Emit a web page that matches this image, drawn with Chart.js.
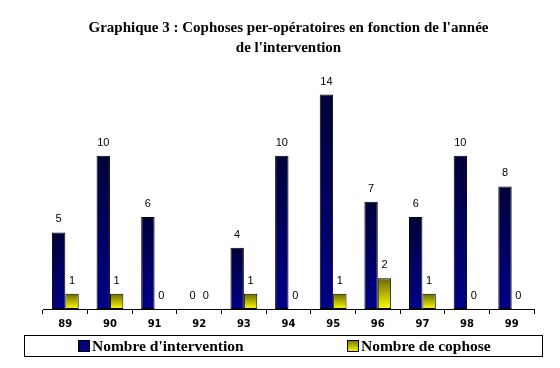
<!DOCTYPE html>
<html>
<head>
<meta charset="utf-8">
<script src="https://cdn.jsdelivr.net/npm/chart.js@4"></script>
<style>
  html, body { margin: 0; padding: 0; background: #fff; }
  #wrap { width: 560px; height: 368px; }
</style>
</head>
<body>
<div id="wrap"><canvas id="cophoseChart" width="560" height="368"></canvas></div>
<script>
const annees = ["89", "90", "91", "92", "93", "94", "95", "96", "97", "98", "99"];
const interventions = [5, 10, 6, 0, 4, 10, 14, 7, 6, 10, 8];
const cophoses = [1, 1, 0, 0, 1, 0, 1, 2, 1, 0, 0];
const titre = ["Graphique 3 : Cophoses per-opératoires en fonction de l'année", "de l'intervention"];
const legendes = ["Nombre d'intervention", "Nombre de cophose"];

const serif = "'Liberation Serif', 'Times New Roman', serif";

// gradient from the top of each bar down to the baseline
function barGradient(top, bottom) {
  return (c) => {
    const chart = c.chart;
    const y = chart.scales.y;
    if (!y || c.type !== "data" || !chart.chartArea) return bottom;
    const y0 = y.getPixelForValue(0);
    const y1 = y.getPixelForValue(c.raw);
    if (y0 - y1 < 1) return bottom;
    const g = chart.ctx.createLinearGradient(0, y1, 0, y0);
    g.addColorStop(0, top);
    g.addColorStop(1, bottom);
    return g;
  };
}

const valeurs = {
  id: "valeurs",
  afterDatasetsDraw(chart) {
    const ctx = chart.ctx;
    ctx.save();
    ctx.font = "11px 'Liberation Sans', Arial, sans-serif";
    ctx.fillStyle = "#000";
    ctx.textAlign = "center";
    ctx.textBaseline = "middle";
    chart.data.datasets.forEach((ds, i) => {
      chart.getDatasetMeta(i).data.forEach((bar, j) => {
        ctx.fillText(String(ds.data[j]), bar.x, bar.y - 13);
      });
    });
    ctx.restore();
  }
};

const legende = {
  id: "legende",
  afterDraw(chart) {
    const ctx = chart.ctx;
    const top = chart.height - 33;
    ctx.save();
    ctx.strokeStyle = "#000";
    ctx.lineWidth = 1;
    ctx.strokeRect(24.5, top + 0.5, 518, 21);
    ctx.font = "bold 15.5px " + serif;
    ctx.textBaseline = "middle";
    ctx.fillStyle = "#000";
    const xs = [78, 347];
    const fills = ["#000080", null];
    xs.forEach((x, i) => {
      const sy = top + 5;
      if (fills[i]) {
        ctx.fillStyle = fills[i];
      } else {
        const g = ctx.createLinearGradient(0, sy, 0, sy + 12);
        g.addColorStop(0, "#707000");
        g.addColorStop(1, "#ffff00");
        ctx.fillStyle = g;
      }
      ctx.fillRect(x, sy, 12, 12);
      ctx.strokeRect(x + 0.5, sy + 0.5, 11, 11);
      ctx.fillStyle = "#000";
      ctx.fillText(legendes[i], x + 14, top + 11.5);
    });
    ctx.restore();
  }
};

new Chart(document.getElementById("cophoseChart"), {
  type: "bar",
  data: {
    labels: annees,
    datasets: [{
      label: legendes[0],
      data: interventions,
      backgroundColor: barGradient("#000038", "#000088"),
      borderColor: "#000",
      borderWidth: 1,
      borderSkipped: false
    }, {
      label: legendes[1],
      data: cophoses,
      backgroundColor: barGradient("#686800", "#ffff00"),
      borderColor: "#000",
      borderWidth: 1,
      borderSkipped: false
    }]
  },
  options: {
    responsive: false,
    animation: false,
    devicePixelRatio: 1,
    datasets: {
      bar: { categoryPercentage: 0.6, barPercentage: 1 }
    },
    layout: { padding: { left: 43, right: 26, bottom: 34, top: 0 } },
    scales: {
      x: {
        grid: { offset: true, drawOnChartArea: false, tickLength: 5, color: "#000" },
        border: { color: "#000", width: 1 },
        ticks: {
          color: "#000",
          padding: 4,
          maxRotation: 0,
          font: { family: "'DejaVu Sans', Verdana, sans-serif", size: 10, weight: "bold" }
        }
      },
      y: { display: false, min: 0, max: 16 }
    },
    plugins: {
      legend: { display: false },
      tooltip: { enabled: false },
      title: {
        display: true,
        text: titre,
        color: "#000",
        font: { family: serif, size: 15, weight: "bold", lineHeight: 1.33 },
        padding: { top: 18, bottom: 6 }
      }
    }
  },
  plugins: [valeurs, legende]
});
</script>
</body>
</html>
